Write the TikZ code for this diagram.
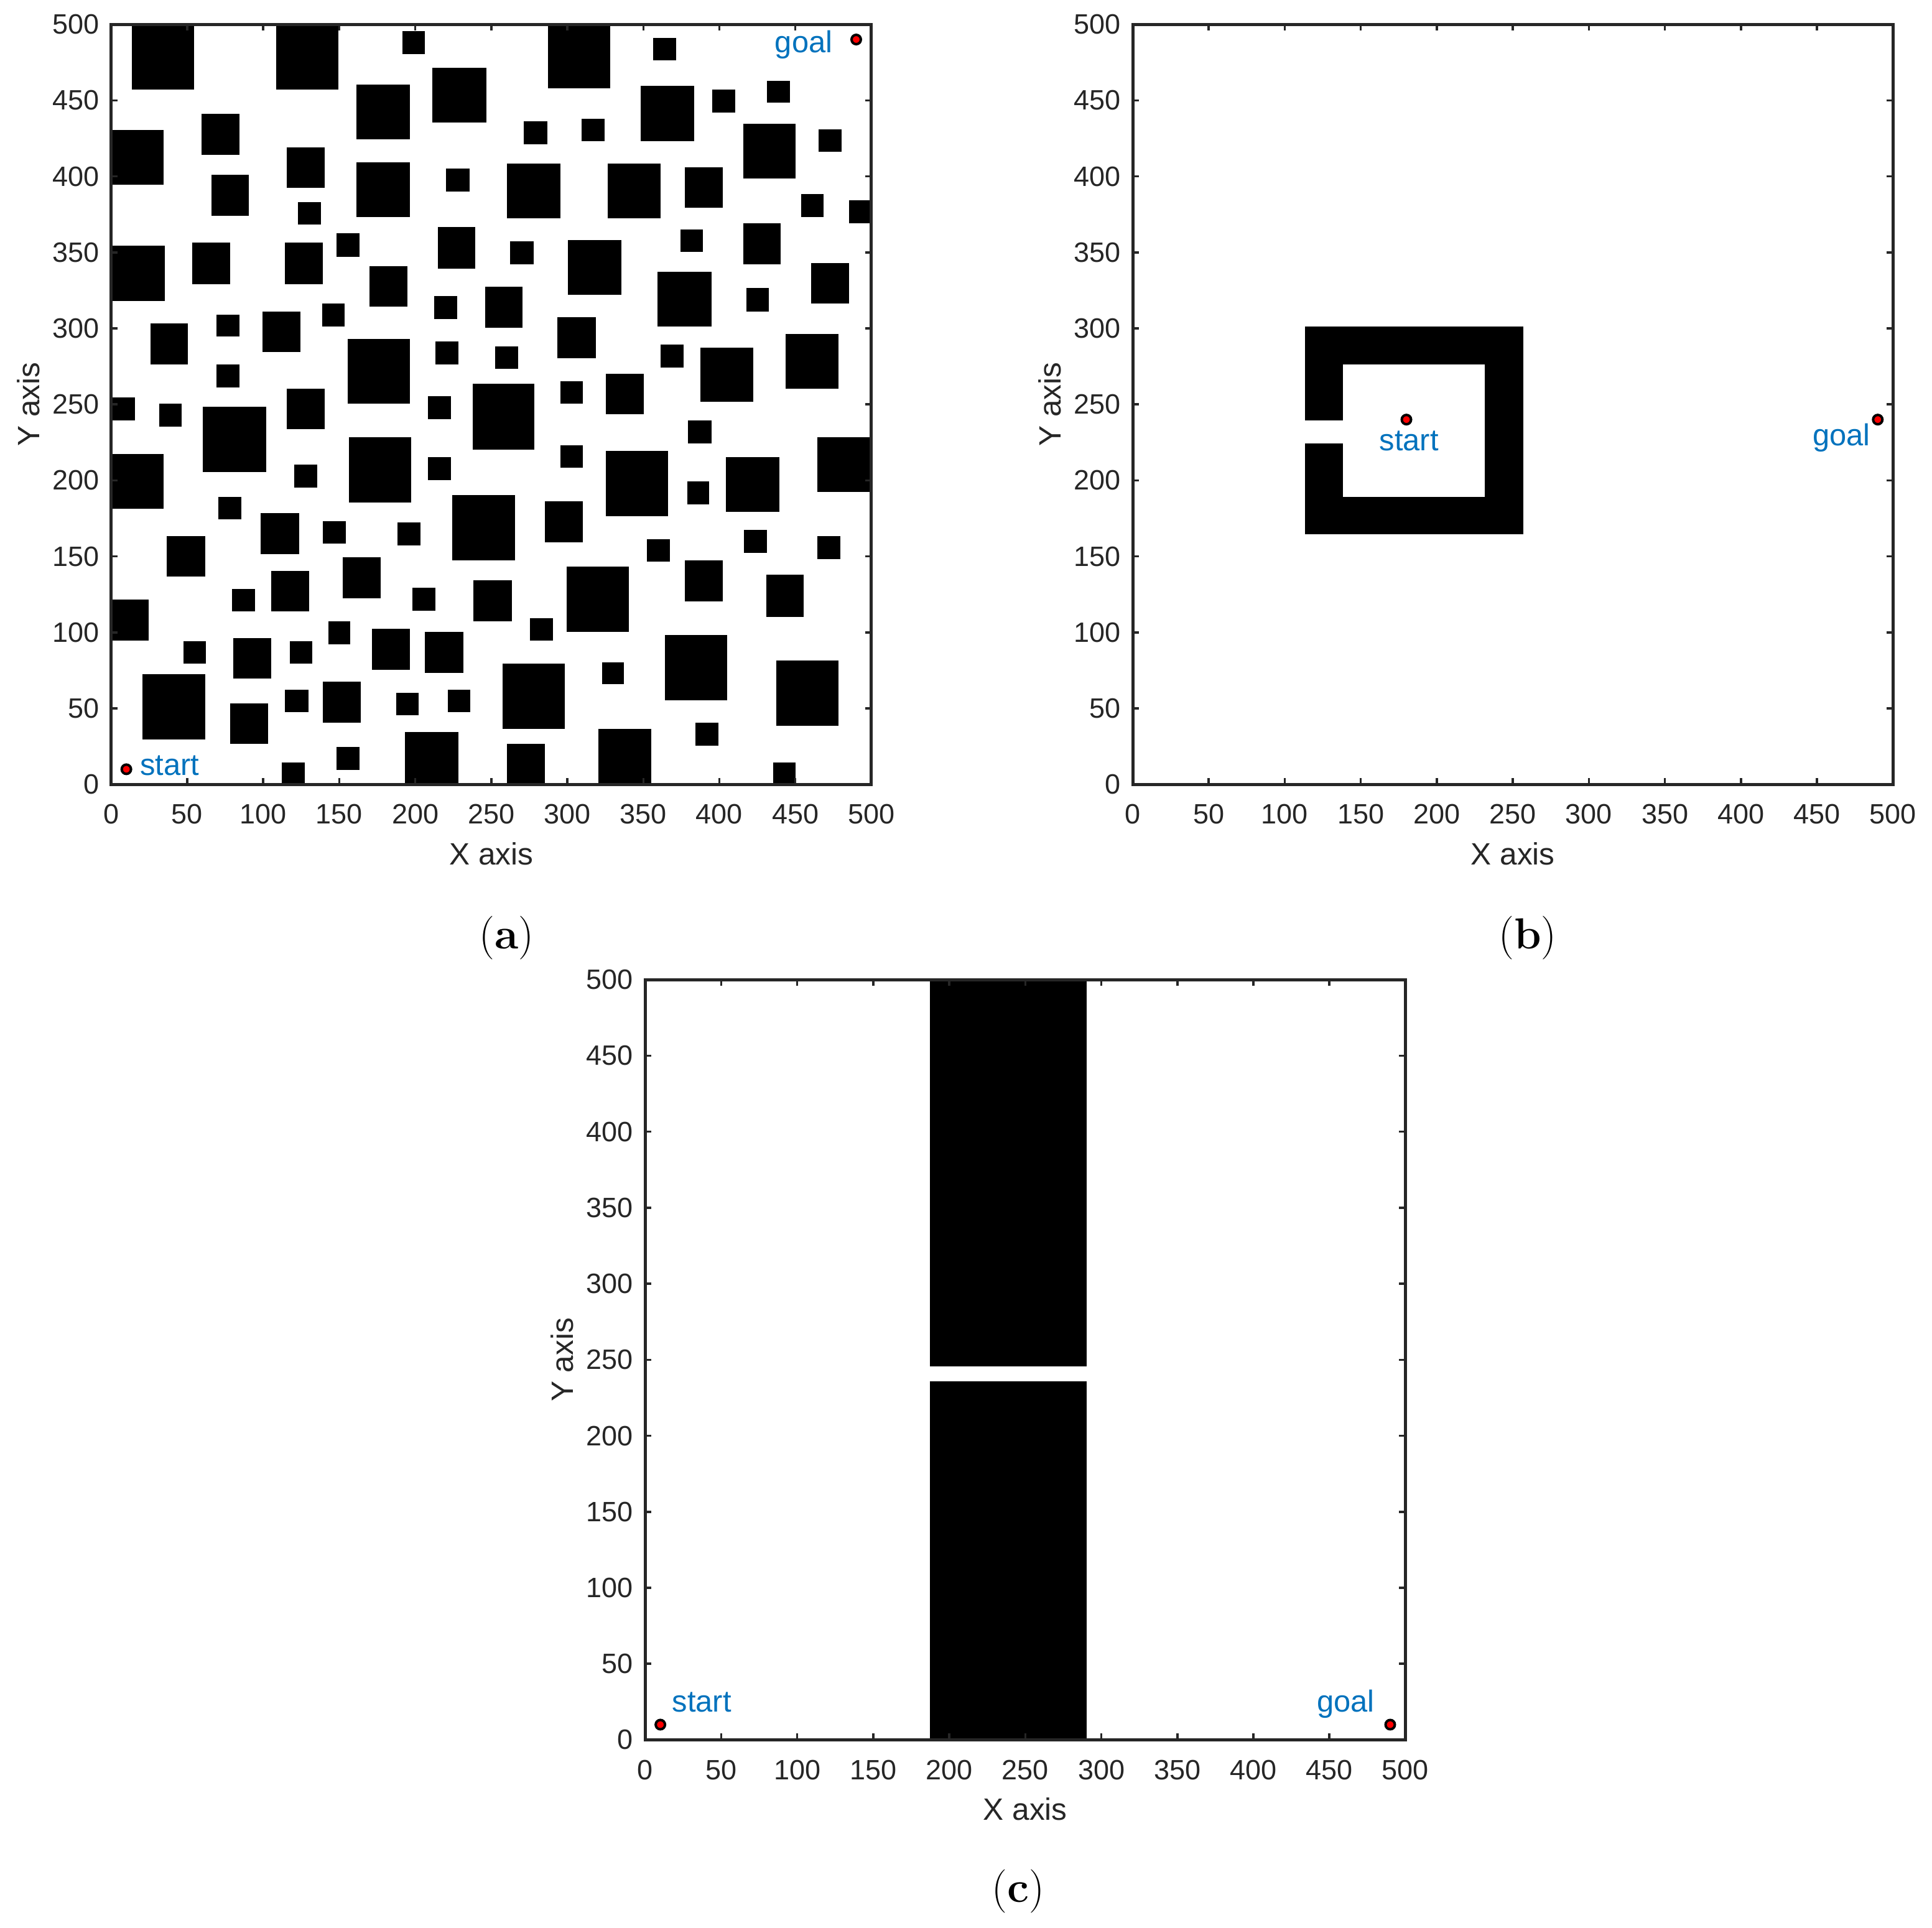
\documentclass[tikz,border=0pt]{standalone}
\usepackage{fontspec}
\setsansfont{Liberation Sans}
\definecolor{axc}{RGB}{38,38,38}
\definecolor{mblue}{RGB}{0,114,189}
\tikzset{
  obs/.style={fill=black, draw=none},
  axbox/.style={draw=axc, line width=0.05cm},
  tickmark/.style={draw=axc, line width=0.035cm},
  ticklab/.style={text=axc, font=\sffamily\fontsize{12.8pt}{14pt}\selectfont, inner sep=0pt},
  axlab/.style={text=axc, font=\sffamily\fontsize{14.1pt}{16pt}\selectfont, inner sep=0pt},
  ptlab/.style={text=mblue, font=\sffamily\fontsize{13.9pt}{16pt}\selectfont, inner sep=0pt},
  ptmark/.style={circle, fill=red, draw=black, line width=0.04cm, minimum size=0.15cm, inner sep=0pt},
  capt/.style={font=\fontsize{19.9pt}{24pt}\selectfont, inner sep=0pt},
  panel/.style={x=0.02444cm, y=0.02444cm}
}
\newcommand{\drawaxes}[1]{%
  \foreach \v in {0,50,...,500} {
    \draw[tickmark] (\v,0) -- (\v,4.1);
    \draw[tickmark] (\v,500) -- (\v,495.9);
    \draw[tickmark] (0,\v) -- (4.1,\v);
    \draw[tickmark] (500,\v) -- (495.9,\v);
    \node[ticklab, anchor=base] (#1x\v) at (\v,-26.0) {\v};
    \node[ticklab, anchor=east] (#1y\v) at (-7.6,\v) {\v};
  }
  \draw[axbox] (0,0) rectangle (500,500);
  \node[axlab, anchor=base] (#1xlabel) at (250,-52.7) {X axis};
  \node[axlab, anchor=base, rotate=90] (#1ylabel) at (-47.3,250) {Y axis};
}
\begin{document}
\begin{tikzpicture}
\path[use as bounding box, fill=white] (0,0) rectangle (31.06cm,-30.99cm);

% ---------------- panel (a) ----------------
\begin{scope}[shift={(1.787cm,-12.613cm)}, panel]
  \begin{scope}
    \clip (0,0) rectangle (500,500);
    \foreach \xa/\ya/\xb/\yb in {
      13.8/457.2/54.6/500, 108.7/457.2/149.6/500, 191.4/480.2/206.5/495.4,
      211.4/435.2/246.6/471.2, 161.4/424.2/196.6/460.2, 59.5/414.3/84.5/441.3,
      0/394.3/34.5/430.3, 115.6/392.3/140.6/419.2, 161.4/373.4/196.6/409.4,
      220.3/390.1/235.6/405.3, 65.8/374.2/90.6/401.2, 122.7/368.4/137.8/383.2,
      148.3/347.2/163.4/362.4, 214.7/339.3/239.5/366.5, 0/318.1/35.4/354.6,
      53.4/329.1/78.4/356.6, 114.4/329.1/139.4/356.6, 169.7/314.5/194.7/341.0,
      245.8/300.5/270.6/327.2, 212.6/306.3/227.4/321.4, 138.6/301.4/153.7/316.5,
      25.7/276.4/50.6/303.3, 69.4/294.5/84.5/309.1, 99.6/284.6/124.6/311.2,
      155.4/250.6/196.6/293.1, 213.4/276.4/228.5/291.5, 252.7/273.6/267.5/288.2,
      69.4/261.3/84.5/276.4, 237.6/220.3/278.5/263.4, 115.6/233.6/140.6/260.4,
      208.5/240.3/223.6/255.5, 0/239.5/15.8/254.4, 31.7/235.4/46.5/250.6,
      60.3/205.3/101.8/248.6,
      287.4/458.0/328.3/500, 356.6/476.4/371.4/491.2, 348.3/423.3/383.5/459.4,
      395.5/442.1/410.6/457.2, 431.5/448.3/446.6/463.0, 271.4/421.2/286.7/436.3,
      309.5/423.3/324.7/438.0, 415.6/398.4/450.3/434.4, 465.4/416.3/480.5/431.1,
      260.4/372.6/295.6/408.2, 326.6/372.6/361.5/408.2, 377.4/379.5/402.4/406.1,
      453.6/373.4/468.4/388.5, 485.4/369.3/500/384.4, 374.6/350.5/389.3/365.2,
      415.6/342.3/440.4/369.3, 262.5/342.3/277.7/357.4, 300.5/322.2/335.7/358.2,
      359.5/301.4/394.7/337.4, 417.6/311.2/432.4/326.4, 460.5/316.5/485.4/343.1,
      293.6/280.5/318.6/307.5, 361.5/274.4/376.6/289.5, 387.6/251.6/422.5/287.4,
      443.4/260.4/478.5/296.4, 295.6/250.6/310.4/265.4, 325.5/243.6/350.5/270.3,
      0/181.5/34.5/217.5, 156.5/185.6/197.5/228.5, 120.5/195.3/135.6/210.6,
      208.5/200.2/223.6/215.3, 70.5/174.6/85.8/189.2, 98.5/151.6/123.5/178.5,
      139.4/158.5/154.5/173.3, 188.4/157.3/203.5/172.4, 224.4/147.5/265.8/190.5,
      36.7/136.6/61.7/163.4, 152.4/122.6/177.4/149.6, 79.6/113.8/94.7/128.7,
      105.4/113.8/130.4/140.5, 198.3/114.4/213.4/129.5, 238.4/107.5/263.7/134.5,
      0/94.5/24.8/121.6, 47.7/79.6/62.5/94.4, 80.4/69.5/105.4/96.3,
      117.7/79.6/132.4/94.4, 142.7/92.2/157.3/107.3, 171.6/75.6/196.6/102.6,
      206.5/73.5/231.5/100.4, 20.7/29.7/61.7/72.7, 78.4/26.8/103.4/53.4,
      114.4/47.7/129.6/62.5, 139.4/40.8/164.2/67.7, 187.6/45.7/202.4/60.3,
      221.6/47.7/236.3/62.5, 148.3/9.7/163.4/24.8, 112.3/0/127.4/14.5,
      193.3/0/228.5/34.5,
      379.4/224.4/394.7/239.5, 464.6/192.5/500/228.5, 295.6/208.4/310.4/223.2,
      325.5/176.6/366.4/219.5, 378.8/184.3/393.4/199.4, 404.4/179.3/439.6/215.3,
      285.4/159.3/310.4/186.4, 352.5/146.6/367.6/161.4, 416.2/152.4/431.5/167.5,
      464.6/148.3/479.4/163.4, 299.7/100.4/340.6/143.3, 377.4/120.5/402.4/147.5,
      430.7/110.3/455.5/137.8, 275.5/94.5/290.6/109.5, 364.3/55.4/405.2/98.5,
      257.6/36.7/298.5/79.6, 322.7/65.8/337.3/80.4, 437.6/38.6/478.5/81.7,
      384.3/25.6/399.5/40.8, 260.4/0/285.4/26.8, 320.6/0/355.4/36.7,
      435.5/0/450.3/14.5}
      \fill[obs] (\xa,\ya) rectangle (\xb,\yb);
  \end{scope}
  \drawaxes{a}
  \node[ptmark] (astart) at (10,10) {};
  \node[ptmark] (agoal) at (490,490) {};
  \node[ptlab, anchor=base west] (astartlab) at (18.7,6.0) {start};
  \node[ptlab, anchor=base west] (agoallab) at (436.3,481.6) {goal};
  \node[capt, anchor=base] (capa) at (260.2,-108.1) {(\textbf{a})};
\end{scope}

% ---------------- panel (b) ----------------
\begin{scope}[shift={(18.21cm,-12.613cm)}, panel]
  \fill[obs] (113.2,276.3) rectangle (256.7,301.3);
  \fill[obs] (113.2,164.6) rectangle (256.7,189.2);
  \fill[obs] (231.6,164.6) rectangle (256.7,301.3);
  \fill[obs] (113.2,239.6) rectangle (138.3,301.3);
  \fill[obs] (113.2,164.6) rectangle (138.3,224.3);
  \drawaxes{b}
  \node[ptmark] (bstart) at (180,240) {};
  \node[ptmark] (bgoal) at (490,240) {};
  \node[ptlab, anchor=base] (bstartlab) at (181.7,219.8) {start};
  \node[ptlab, anchor=base east] (bgoallab) at (485.3,222.7) {goal};
  \node[capt, anchor=base] (capb) at (259.8,-108.1) {(\textbf{b})};
\end{scope}

% ---------------- panel (c) ----------------
\begin{scope}[shift={(10.372cm,-27.974cm)}, panel]
  \fill[obs] (187.3,245.8) rectangle (290.3,500);
  \fill[obs] (187.3,0) rectangle (290.3,235.8);
  \drawaxes{c}
  \node[ptmark] (cstart) at (10,10) {};
  \node[ptmark] (cgoal) at (490,10) {};
  \node[ptlab, anchor=base west] (cstartlab) at (17.5,18.3) {start};
  \node[ptlab, anchor=base west] (cgoallab) at (441.5,18.2) {goal};
  \node[capt, anchor=base] (capc) at (245.3,-106.8) {(\textbf{c})};
\end{scope}
\end{tikzpicture}
\end{document}
